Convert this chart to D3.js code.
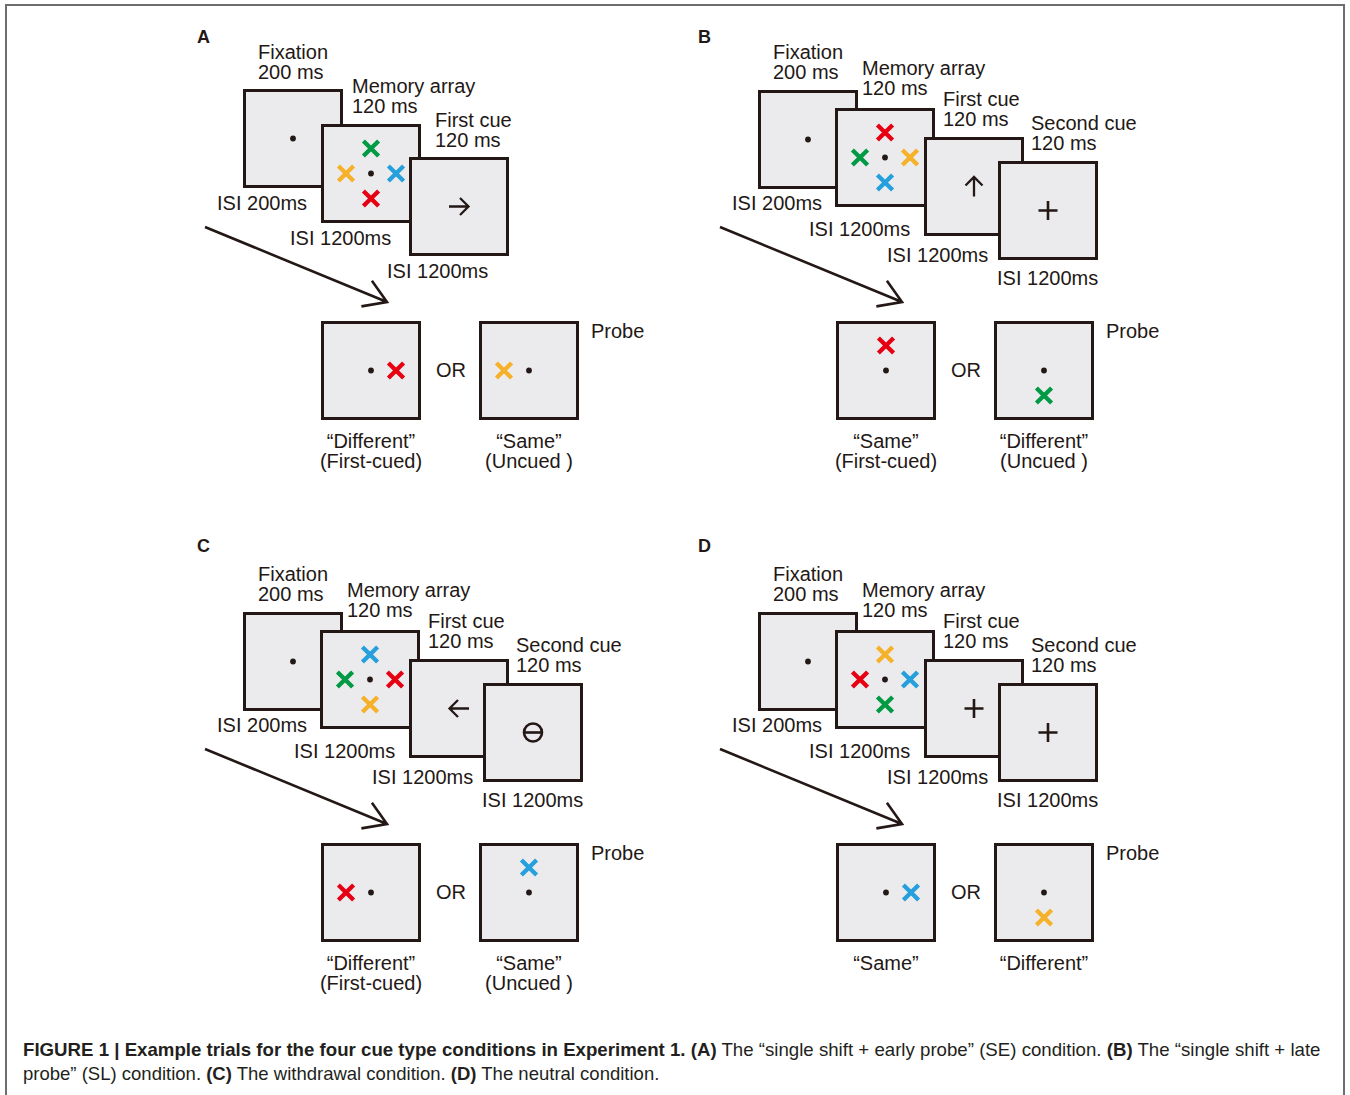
<!DOCTYPE html>
<html><head><meta charset="utf-8">
<script src="https://cdn.jsdelivr.net/npm/d3@7"></script>
<style>
html,body{margin:0;padding:0;background:#fff;}
svg{display:block;}
text{font-family:"Liberation Sans",Arial,Helvetica,sans-serif;}
</style></head><body>
<svg id="fig" width="1350" height="1095"></svg>
<script>
// ---------------- DATA ----------------
const panelLetters = ["A","B","C","D"];
const stageTitles = ["Fixation","Memory array","First cue","Second cue"];
const stageDurations = ["200 ms","120 ms","120 ms","120 ms"];
const isiLabels = ["ISI 200ms","ISI 1200ms","ISI 1200ms","ISI 1200ms"];
const arrayPositions = ["top","left","right","bottom"];
const memoryArrayA = ["green","yellow","blue","red"];
const memoryArrayB = ["red","green","yellow","blue"];
const memoryArrayC = ["blue","green","red","yellow"];
const memoryArrayD = ["yellow","red","blue","green"];
const cuesA = ["arrowRight"];
const cuesB = ["arrowUp","plus"];
const cuesC = ["arrowLeft","withdraw"];
const cuesD = ["plus","plus"];
const probeItemsA = [{pos:"right",color:"red"},{pos:"left",color:"yellow"}];
const probeItemsB = [{pos:"top",color:"red"},{pos:"bottom",color:"green"}];
const probeItemsC = [{pos:"left",color:"red"},{pos:"top",color:"blue"}];
const probeItemsD = [{pos:"right",color:"blue"},{pos:"bottom",color:"yellow"}];
const probeLabelsA = [["\u201CDifferent\u201D","(First-cued)"],["\u201CSame\u201D","(Uncued )"]];
const probeLabelsB = [["\u201CSame\u201D","(First-cued)"],["\u201CDifferent\u201D","(Uncued )"]];
const probeLabelsC = [["\u201CDifferent\u201D","(First-cued)"],["\u201CSame\u201D","(Uncued )"]];
const probeLabelsD = [["\u201CSame\u201D"],["\u201CDifferent\u201D"]];
const colorNames = ["green","yellow","blue","red"];
const colorValues = ["#009a44","#f6b12a","#25a0dc","#e60012"];
const captionLine1 = [
  ["FIGURE 1 | Example trials for the four cue type conditions in Experiment 1. (A)", true],
  [" The \u201Csingle shift + early probe\u201D (SE) condition. ", false],
  ["(B)", true],
  [" The \u201Csingle shift + late", false]
];
const captionLine2 = [
  ["probe\u201D (SL) condition. ", false],
  ["(C)", true],
  [" The withdrawal condition. ", false],
  ["(D)", true],
  [" The neutral condition.", false]
];

const panels = [
  {letter:"A", memory:memoryArrayA, cues:cuesA, probes:probeItemsA, labels:probeLabelsA},
  {letter:"B", memory:memoryArrayB, cues:cuesB, probes:probeItemsB, labels:probeLabelsB},
  {letter:"C", memory:memoryArrayC, cues:cuesC, probes:probeItemsC, labels:probeLabelsC},
  {letter:"D", memory:memoryArrayD, cues:cuesD, probes:probeItemsD, labels:probeLabelsD}
];

// ---------------- SCALES / LAYOUT ----------------
const ink = "#231815";
const boxFill = "#ebebed";
const color = d3.scaleOrdinal().domain(colorNames).range(colorValues);
const panelX = d3.scaleOrdinal().domain(panelLetters).range([0,515,0,515]);
const panelY = d3.scaleOrdinal().domain(panelLetters).range([0,0,522,522]);
const letterX = d3.scaleOrdinal().domain(panelLetters).range([197,698,197,698]);
const letterY = d3.scaleOrdinal().domain(panelLetters).range([43,43,552,552]);
const dirX = d3.scaleOrdinal().domain(["top","left","right","bottom","center"]).range([0,-1,1,0,0]);
const dirY = d3.scaleOrdinal().domain(["top","left","right","bottom","center"]).range([-1,0,0,1,0]);
const itemSpacing = 25;
const boxW = 100, boxH = 99, boxStroke = 3;

const layouts = {
  3: {boxes:[[243,89],[321,124],[409,157]],
      titles:[[258,59],[352,93],[435,127]],
      isi:[[217,210],[290,245],[387,278]]},
  4: {boxes:[[243,90],[320,108],[409,137],[483,161]],
      titles:[[258,59],[347,75],[428,106],[516,130]],
      isi:[[217,210],[294,236],[372,262],[482,285]]}
};
const probeBoxes = [[321,321],[479,321]];

const svg = d3.select("#fig");

// outer frame
const frame = svg.append("g").attr("stroke","#6e6e6e").attr("stroke-width",2).attr("fill","none");
frame.append("path").attr("d","M6,1095V5H1344V1095");

function crossPath(s){ return `M${-s},${-s}L${s},${s}M${-s},${s}L${s},${-s}`; }

function drawX(g, cx, cy, col){
  g.append("path").attr("transform",`translate(${cx},${cy})`)
    .attr("d", crossPath(7.6)).attr("stroke", color(col))
    .attr("stroke-width",4.3).attr("fill","none");
}
function drawDot(g, cx, cy){
  g.append("circle").attr("cx",cx).attr("cy",cy).attr("r",2.9).attr("fill",ink);
}
function drawCue(g, cx, cy, type){
  const s = g.append("g").attr("transform",`translate(${cx},${cy})`)
    .attr("stroke",ink).attr("fill","none").attr("stroke-width",2.3);
  const arrow = "M-10,0H9.5M1,-8.5L9.5,0L1,8.5";
  if(type==="arrowRight") s.append("path").attr("d",arrow);
  if(type==="arrowLeft") s.append("path").attr("d",arrow).attr("transform","rotate(180)");
  if(type==="arrowUp") s.append("path").attr("d",arrow).attr("transform","rotate(-90)");
  if(type==="plus") s.append("path").attr("d","M-9.5,0H9.5M0,-9.5V9.5").attr("stroke-width",2.6);
  if(type==="withdraw"){
    s.append("circle").attr("r",9).attr("stroke-width",2.6);
    s.append("path").attr("d","M-9,0H9").attr("stroke-width",2.6);
  }
}
function drawBox(g, x, y){
  g.append("rect").attr("x",x+boxStroke/2).attr("y",y+boxStroke/2)
    .attr("width",boxW-boxStroke).attr("height",boxH-boxStroke)
    .attr("fill",boxFill).attr("stroke",ink).attr("stroke-width",boxStroke);
}
function label(g, x, y, txt, anchor){
  g.append("text").attr("x",x).attr("y",y).attr("font-size",20)
    .attr("fill",ink).attr("text-anchor",anchor||"start").text(txt);
}

panels.forEach(p => {
  svg.append("text").attr("x",letterX(p.letter)).attr("y",letterY(p.letter)).attr("font-size",18)
    .attr("font-weight","bold").attr("fill",ink).text(p.letter);

  const g = svg.append("g").attr("transform",`translate(${panelX(p.letter)},${panelY(p.letter)})`);
  const nStages = 2 + p.cues.length;
  const L = layouts[nStages];

  // stage labels
  for(let i=0;i<nStages;i++){
    const [tx,ty] = L.titles[i];
    label(g, tx, ty, stageTitles[i]);
    label(g, tx, ty+20, stageDurations[i]);
  }
  // boxes with contents, in order (later ones on top)
  for(let i=0;i<nStages;i++){
    const [bx,by] = L.boxes[i];
    drawBox(g,bx,by);
    const cx = bx+boxW/2, cy = by+boxH/2;
    if(i===0) drawDot(g,cx,cy);
    else if(i===1){
      drawDot(g,cx,cy);
      p.memory.forEach((c,k)=>{
        const pos = arrayPositions[k];
        drawX(g, cx+dirX(pos)*itemSpacing, cy+dirY(pos)*itemSpacing, c);
      });
    } else drawCue(g,cx,cy,p.cues[i-2]);
  }
  // ISI labels
  for(let i=0;i<nStages;i++){
    const [ix,iy] = L.isi[i];
    label(g, ix, iy, isiLabels[i]);
  }
  // long arrow
  const a0=[205,227], a1=[387,302];
  const ang = Math.atan2(a1[1]-a0[1], a1[0]-a0[0]);
  const hl = 26, ha = 0.56;
  const h1=[a1[0]-hl*Math.cos(ang-ha), a1[1]-hl*Math.sin(ang-ha)];
  const h2=[a1[0]-hl*Math.cos(ang+ha), a1[1]-hl*Math.sin(ang+ha)];
  g.append("path").attr("d",`M${a0}L${a1}M${h1}L${a1}L${h2}`)
    .attr("stroke",ink).attr("stroke-width",2.6).attr("fill","none")
    .attr("stroke-linejoin","miter");

  // probes
  p.probes.forEach((pr,k)=>{
    const [bx,by] = probeBoxes[k];
    drawBox(g,bx,by);
    const cx=bx+boxW/2, cy=by+boxH/2;
    drawDot(g,cx,cy);
    drawX(g, cx+dirX(pr.pos)*itemSpacing, cy+dirY(pr.pos)*itemSpacing, pr.color);
    p.labels[k].forEach((t,j)=> label(g, cx, 448+j*20, t, "middle"));
  });
  label(g, 436, 377, "OR");
  label(g, 591, 338, "Probe");
});

// caption
function captionLine(parts, y, targetW){
  const t = svg.append("text").attr("x",0).attr("y",0).attr("font-size",18).attr("fill","#231f20");
  parts.forEach(([s,b])=>{
    t.append("tspan").attr("font-weight", b?"bold":"normal").text(s);
  });
  const w = t.node().getComputedTextLength();
  t.attr("transform",`translate(23,${y}) scale(${targetW/w},1)`);
}
captionLine(captionLine1, 1056, 1298);
captionLine(captionLine2, 1080, 637);
</script>
</body></html>
